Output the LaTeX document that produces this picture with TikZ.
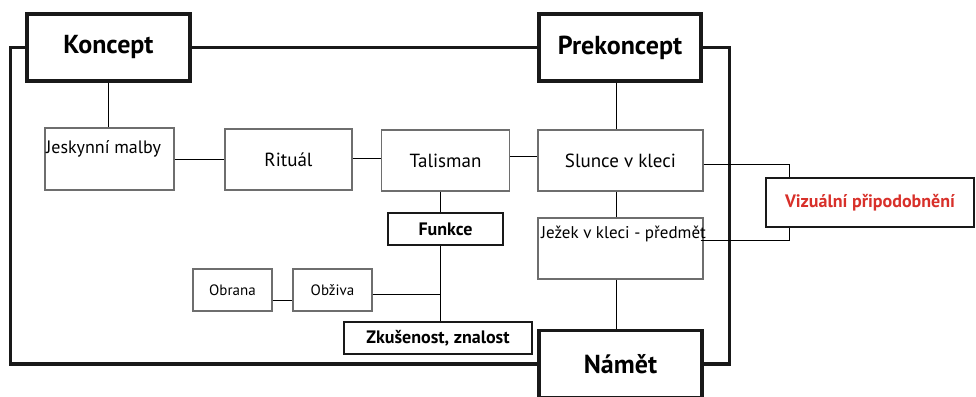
\documentclass[tikz,border=0pt]{standalone}
\usepackage{fontspec}
\setmainfont{PT Sans}
\usetikzlibrary{calc}
\definecolor{vizred}{HTML}{D8302A}
\definecolor{thin}{HTML}{4A4A4A}
\tikzset{
  mainbox/.style={draw=black!90, line width=3.2pt, inner sep=0pt, font=\bfseries\fontsize{26}{30}\selectfont},
  subbox/.style={draw=black!90, line width=2.4pt, inner sep=0pt, font=\bfseries\fontsize{18}{21}\selectfont},
  itembox/.style={draw=thin!80, line width=1.2pt, inner sep=0pt, font=\fontsize{19}{22}\selectfont},
  smallbox/.style={draw=thin!80, line width=1.2pt, inner sep=0pt, font=\fontsize{15}{18}\selectfont},
  thickline/.style={line width=3.2pt, black!90},
  thinline/.style={line width=1.2pt, thin},
}
\begin{document}
\begin{tikzpicture}[x=1pt,y=-1pt]
\clip (0,0) rectangle (976,396);
\fill[white] (0,0) rectangle (976,396);

% main boxes
\node[mainbox, minimum width=163pt, minimum height=67pt] (Koncept) at (108.5,47.5) {Koncept};
\node[mainbox, minimum width=162pt, minimum height=67pt] (Prekoncept) at (620,47.5) {Prekoncept};
\node[mainbox, minimum width=163pt, minimum height=67pt] (Namet) at (620.5,364) {Námět};

% outer frame
\draw[thickline] (Koncept.east) -- (Prekoncept.west);
\draw[thickline] (Koncept.west) -- ++(-15,0) |- (Namet.west);
\draw[thickline] (Prekoncept.east) -- ++(27,0) |- (Namet.east);

% second row
\node[itembox, minimum width=129pt, minimum height=62pt] (Jeskynni) at (109.5,159) {};
\node[font=\fontsize{18}{21}\selectfont, anchor=base west, inner sep=0pt] (JeskynniText) at (46,153) {Jeskynní malby};
\node[itembox, minimum width=127pt, minimum height=61pt] (Ritual) at (288.5,159.5) {Rituál};
\node[itembox, minimum width=128pt, minimum height=61pt] (Talisman) at (445.5,160.5) {Talisman};
\node[itembox, minimum width=165pt, minimum height=61pt] (Slunce) at (620.5,160.5) {Slunce v kleci};
\node[itembox, minimum width=165pt, minimum height=61pt] (Jezek) at (620.5,248.5) {};
\node[font=\fontsize{17}{20}\selectfont, anchor=base west, inner sep=0pt] (JezekText) at (541,238) {Ježek v kleci - předmět};

% visual similarity box
\node[draw=black!90, line width=2.4pt, inner sep=0pt, minimum width=208pt, minimum height=49pt,
      font=\bfseries\fontsize{18}{21}\selectfont, text=vizred] (Viz) at (870,202.5) {Vizuální připodobnění};

% lower boxes
\node[subbox, minimum width=115pt, minimum height=32pt] (Funkce) at (445.5,229) {Funkce};
\node[subbox, minimum width=188pt, minimum height=32pt] (Zkusenost) at (438,338) {Zkušenost, znalost};
\node[smallbox, minimum width=79pt, minimum height=42pt] (Obrana) at (232.5,290) {Obrana};
\node[smallbox, minimum width=79pt, minimum height=42pt] (Obziva) at (332.5,290) {Obživa};

% thin connectors
\draw[thinline] (Koncept.south) -- (Koncept.south |- Jeskynni.north);
\draw[thinline] ($(Jeskynni.east)+(0,0.5)$) -- ($(Jeskynni.east -| Ritual.west)+(0,0.5)$);
\draw[thinline] ($(Ritual.east)+(0,-1.5)$) -- ($(Ritual.east -| Talisman.west)+(0,-1.5)$);
\draw[thinline] ($(Talisman.east)+(0,-4.5)$) -- ($(Talisman.east -| Slunce.west)+(0,-4.5)$);
\coordinate (pcol) at ($(Prekoncept.south)+(-4,0)$);
\draw[thinline] (pcol) -- (pcol |- Slunce.north);
\draw[thinline] (pcol |- Slunce.south) -- (pcol |- Jezek.north);
\draw[thinline] (pcol |- Jezek.south) -- (pcol |- Namet.north);
\coordinate (vcol) at ($(Viz.north west)+(24,0)$);
\draw[thinline] ($(Slunce.east)+(0,3.5)$) -| (vcol);
\draw[thinline] ($(Jezek.east)+(-3,-8.5)$) -| (vcol |- Viz.south);
\coordinate (fcol) at ($(Talisman.south)+(-5.5,0)$);
\draw[thinline] (fcol) -- (fcol |- Funkce.north);
\draw[thinline] (fcol |- Funkce.south) -- (fcol |- Zkusenost.north);
\draw[thinline] ($(Obziva.east)+(0,4)$) -- ($(Obziva.east -| fcol)+(0,4)$);
\draw[thinline] ($(Obrana.east)+(0,10)$) -- ($(Obziva.west)+(0,10)$);
\draw[thinline] ($(Ritual.south)+(-30.5,0)$) -- ($(Ritual.south -| Obrana.north)+(25.5,0)$ |- Obrana.north);
\draw[thinline] ($(Ritual.south)+(31.5,0)$) -- ($(Ritual.south)+(31.5,0)$ |- Obziva.north);
\end{tikzpicture}
\end{document}
